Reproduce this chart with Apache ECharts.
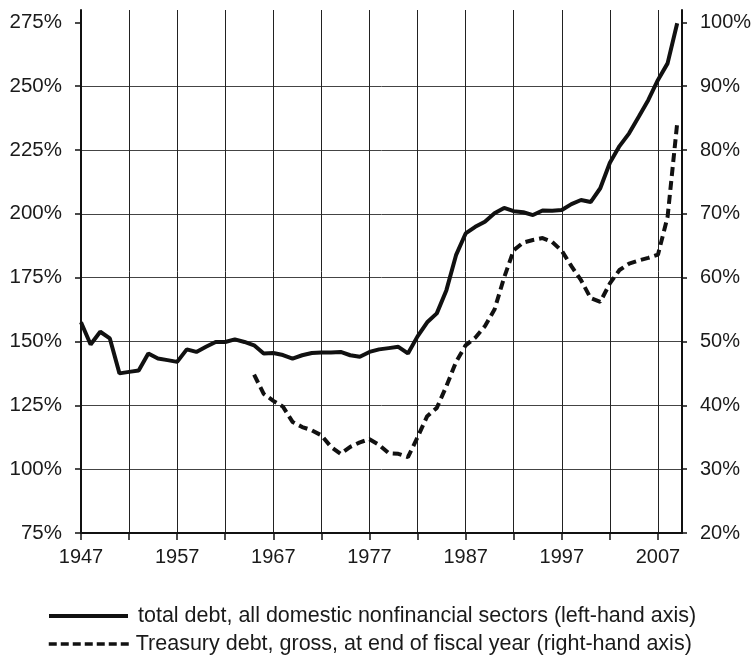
<!DOCTYPE html>
<html>
<head>
<meta charset="utf-8">
<style>
  html, body { margin: 0; padding: 0; background: #fff; }
  #chart { width: 756px; height: 656px; }
</style>
<script src="https://cdn.jsdelivr.net/npm/echarts@6/dist/echarts.min.js"></script>
</head>
<body>
<div id="chart"></div>
<script>
// years on the x axis
var years = [1947, 1948, 1949, 1950, 1951, 1952, 1953, 1954, 1955, 1956,
  1957, 1958, 1959, 1960, 1961, 1962, 1963, 1964, 1965, 1966,
  1967, 1968, 1969, 1970, 1971, 1972, 1973, 1974, 1975, 1976,
  1977, 1978, 1979, 1980, 1981, 1982, 1983, 1984, 1985, 1986,
  1987, 1988, 1989, 1990, 1991, 1992, 1993, 1994, 1995, 1996,
  1997, 1998, 1999, 2000, 2001, 2002, 2003, 2004, 2005, 2006,
  2007, 2008, 2009];

// total debt, all domestic nonfinancial sectors, % of GDP (left axis)
var totalDebt = [157.5, 148.8, 153.8, 151.2, 137.5, 138.1, 138.6, 145.3, 143.3, 142.7,
  142.0, 146.9, 145.9, 147.9, 149.8, 149.8, 150.8, 149.8, 148.5, 145.3,
  145.5, 144.7, 143.3, 144.6, 145.5, 145.7, 145.7, 145.9, 144.6, 144.0,
  145.9, 146.9, 147.4, 147.9, 145.3, 152.0, 157.5, 161.0, 170.1, 183.8,
  192.3, 194.9, 196.9, 200.2, 202.3, 201.0, 200.6, 199.5, 201.3, 201.2,
  201.5, 203.8, 205.4, 204.6, 210.0, 220.0, 226.5, 231.5, 238.0, 244.6,
  252.4, 258.9, 274.6];

// treasury debt, gross, end of fiscal year, % of GDP (right axis), 1965 on
var treasuryYears = years.slice(18);
var treasuryDebt = [44.8, 41.8, 40.7, 39.8, 37.4, 36.6, 36.1, 35.3, 33.5, 32.4,
  33.5, 34.2, 34.7, 33.8, 32.5, 32.4, 31.9, 35.0, 38.3, 39.6,
  43.0, 46.8, 49.4, 50.6, 52.4, 55.0, 60.0, 64.3, 65.5, 65.9,
  66.2, 65.6, 64.2, 61.8, 59.6, 56.8, 56.2, 59.1, 61.2, 62.2,
  62.7, 63.1, 63.6, 69.5, 84.2];

var yearLabels = ['1947', '1957', '1967', '1977', '1987', '1997', '2007'];
var yearTicks = [0, 5, 10, 15, 20, 25, 30, 35, 40, 45, 50, 55, 60];
var leftTicks = [75, 100, 125, 150, 175, 200, 225, 250, 275];
var rightTicks = [20, 30, 40, 50, 60, 70, 80, 90, 100];

var totalName = 'total debt, all domestic nonfinancial sectors (left-hand axis)';
var treasuryName = 'Treasury debt, gross, at end of fiscal year (right-hand axis)';

var baseYear = years[0];
var font = 'Liberation Sans, Arial, sans-serif';
var ink = '#111';

function pairs(xs, ys) {
  return xs.map(function (y, i) { return [y - baseYear, ys[i]]; });
}

var legendText = { fontFamily: font, fontSize: 21.5, color: '#1a1a1a' };

var chart = echarts.init(document.getElementById('chart'));
chart.setOption({
  backgroundColor: '#fff',
  animation: false,
  grid: { left: 81, right: 74, top: 10, bottom: 123 },
  legend: [
    {
      left: 42, top: 600,
      itemWidth: 79, itemHeight: 14,
      itemStyle: { opacity: 0 },
      lineStyle: { width: 4, color: ink },
      textStyle: Object.assign({ padding: [0, 0, 0, 5] }, legendText),
      data: [totalName]
    },
    {
      left: 42, top: 628,
      itemWidth: 82, itemHeight: 14,
      itemStyle: { opacity: 0 },
      lineStyle: { width: 3.5, color: ink, type: [8, 4] },
      textStyle: legendText,
      data: [treasuryName]
    }
  ],
  xAxis: {
    type: 'value',
    min: 0,
    max: 62.5,
    interval: 5,
    axisLine: { lineStyle: { color: ink, width: 2 } },
    axisTick: { customValues: yearTicks, length: 7, lineStyle: { color: ink, width: 1.5 } },
    axisLabel: {
      customValues: yearTicks,
      margin: 14,
      fontFamily: font, fontSize: 20, color: '#1a1a1a',
      formatter: function (v) {
        var s = String(baseYear + v);
        return yearLabels.indexOf(s) >= 0 ? s : '';
      }
    },
    splitLine: { show: true, lineStyle: { color: '#222', width: 1 } }
  },
  yAxis: [
    {
      type: 'value',
      position: 'left',
      min: 75,
      max: 279.8,
      interval: 25,
      axisLine: { show: true, lineStyle: { color: ink, width: 2 } },
      axisTick: { show: true, customValues: leftTicks, length: 6, lineStyle: { color: ink, width: 1.5 } },
      axisLabel: {
        customValues: leftTicks, margin: 19,
        fontFamily: font, fontSize: 20.5, color: '#1a1a1a', formatter: '{value}%'
      },
      splitLine: { show: true, showMaxLine: false, lineStyle: { color: '#444', width: 1 } }
    },
    {
      type: 'value',
      position: 'right',
      min: 20,
      max: 101.93,
      interval: 10,
      axisLine: { show: true, lineStyle: { color: ink, width: 2 } },
      axisTick: { show: true, customValues: rightTicks, length: 5, lineStyle: { color: ink, width: 1.5 } },
      axisLabel: {
        customValues: rightTicks, margin: 18,
        fontFamily: font, fontSize: 20, color: '#1a1a1a', formatter: '{value}%'
      },
      splitLine: { show: false }
    }
  ],
  series: [
    {
      name: totalName,
      type: 'line',
      yAxisIndex: 0,
      symbol: 'none',
      lineStyle: { color: ink, width: 4 },
      itemStyle: { color: ink },
      data: pairs(years, totalDebt)
    },
    {
      name: treasuryName,
      type: 'line',
      yAxisIndex: 1,
      symbol: 'none',
      lineStyle: { color: ink, width: 4, type: [9, 5] },
      itemStyle: { color: ink },
      data: pairs(treasuryYears, treasuryDebt)
    }
  ]
});
</script>
</body>
</html>
